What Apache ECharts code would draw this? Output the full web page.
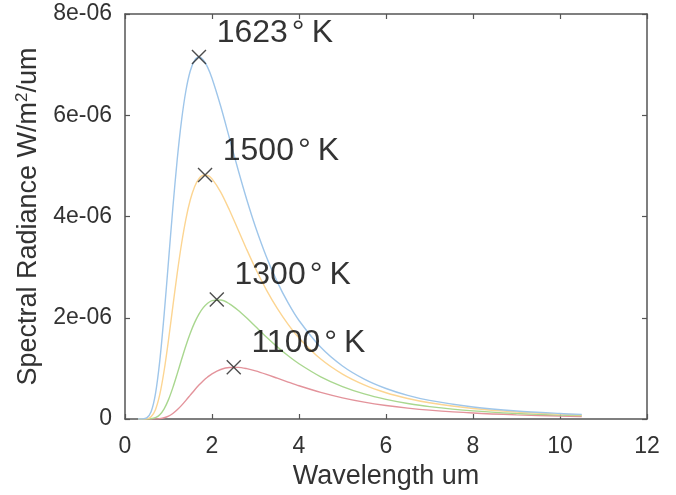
<!DOCTYPE html>
<html>
<head>
<meta charset="utf-8">
<script src="https://cdn.jsdelivr.net/npm/echarts@6/dist/echarts.min.js"></script>
<style>
html,body{margin:0;padding:0;background:#fff;}
#chart{width:676px;height:495px;}
</style>
</head>
<body>
<div id="chart"></div>
<script>
// Wavelength grid (um)
var wavelength = [0.3,0.4,0.5,0.6,0.7,0.8,0.9,1.0,1.1,1.2,1.3,1.4,1.5,1.6,1.7,1.8,1.9,2.0,2.2,2.4,2.6,2.8,3.0,3.25,3.5,3.75,4.0,4.5,5.0,5.5,6.0,6.5,7.0,8.0,9.0,10.0,10.5];
// Spectral radiance, in units of 1e-06
var r1623 = [0.000,0.001,0.022,0.144,0.498,1.154,2.067,3.119,4.173,5.122,5.900,6.484,6.873,7.084,7.150,7.093,6.946,6.731,6.177,5.551,4.923,4.331,3.794,3.207,2.709,2.293,1.946,1.417,1.048,0.789,0.603,0.467,0.367,0.236,0.157,0.109,0.092];
var r1500 = [0.000,0.000,0.005,0.046,0.185,0.486,0.958,1.561,2.224,2.876,3.462,3.950,4.325,4.588,4.746,4.815,4.809,4.742,4.483,4.129,3.737,3.345,2.973,2.552,2.185,1.870,1.602,1.184,0.887,0.674,0.519,0.405,0.320,0.207,0.139,0.097,0.082];
var r1300 = [0.000,0.000,0.000,0.004,0.025,0.084,0.201,0.383,0.620,0.892,1.174,1.447,1.693,1.903,2.072,2.199,2.286,2.337,2.350,2.276,2.149,1.994,1.827,1.620,1.425,1.248,1.091,0.833,0.640,0.495,0.388,0.307,0.245,0.161,0.110,0.077,0.066];
var r1100 = [0.000,0.000,0.000,0.000,0.002,0.008,0.024,0.056,0.109,0.181,0.269,0.368,0.471,0.574,0.670,0.757,0.831,0.893,0.978,1.017,1.019,0.994,0.951,0.882,0.806,0.730,0.656,0.525,0.418,0.333,0.267,0.215,0.175,0.118,0.082,0.058,0.050];
// Peak markers
var peakLabels = ['1623', '1500', '1300', '1100'];
var peakX = [1.70, 1.84, 2.11, 2.50];
var peakY = [7.15, 4.82, 2.36, 1.02];
// Tick labels
var xTicks = ['0','2','4','6','8','10','12'];
var yTicks = ['0','2e-06','4e-06','6e-06','8e-06'];

var FONT = '"Liberation Sans", Arial, Helvetica, sans-serif';
var FRAME = '#555555';

function pairs(ys) {
  var out = [];
  for (var i = 0; i < wavelength.length; i++) out.push([wavelength[i], ys[i]]);
  return out;
}
var curveSets = [
  {name: '1623', data: r1623, color: '#9fc6ea'},
  {name: '1500', data: r1500, color: '#fcd592'},
  {name: '1300', data: r1300, color: '#a9d78f'},
  {name: '1100', data: r1100, color: '#e3939b'}
];
var series = [];
curveSets.slice().reverse().forEach(function (c) {
  series.push({
    type: 'line', name: c.name, data: pairs(c.data), smooth: 0.3,
    showSymbol: false, silent: true,
    lineStyle: {color: c.color, width: 1.4}
  });
});
var peakData = [];
for (var i = 0; i < peakX.length; i++) peakData.push({value: [peakX[i], peakY[i]], name: peakLabels[i]});
series.push({
  type: 'scatter', data: peakData, silent: true, z: 10,
  symbol: 'path://M0,0L10,10M0,10L10,0', symbolSize: 14,
  itemStyle: {color: 'rgba(0,0,0,0)', borderColor: '#222', borderWidth: 1.4},
  label: {
    show: true, position: 'right', distance: 5, offset: [5, -24],
    formatter: function (p) { return p.name + '{deg|°}K'; },
    fontFamily: FONT, fontSize: 32, color: '#000',
    rich: {deg: {fontFamily: FONT, fontSize: 32, color: '#000', padding: [0, 7, 0, 4]}}
  }
});

function xAxisBase(pos, showLabel) {
  return {
    type: 'value', position: pos, min: 0, max: 12, interval: 2,
    axisLine: {show: true, onZero: false, lineStyle: {color: FRAME, width: 1.5}},
    axisTick: {show: true, inside: true, length: 5, lineStyle: {color: FRAME, width: 1.2}},
    axisLabel: {show: showLabel, fontFamily: FONT, fontSize: 23, color: '#333', margin: 16,
      formatter: function (v) { return xTicks[Math.round(v / 2)]; }},
    splitLine: {show: false}
  };
}
function yAxisBase(pos, showLabel) {
  return {
    type: 'value', position: pos, min: 0, max: 8, interval: 2,
    axisLine: {show: true, onZero: false, lineStyle: {color: FRAME, width: 1.5}},
    axisTick: {show: true, inside: true, length: 5, lineStyle: {color: FRAME, width: 1.2}},
    axisLabel: {show: showLabel, fontFamily: FONT, fontSize: 23, color: '#333', margin: 13,
      formatter: function (v) { return yTicks[Math.round(v / 2)]; }},
    splitLine: {show: false}
  };
}
var xb = xAxisBase('bottom', true);
xb.name = 'Wavelength um';
xb.nameLocation = 'middle';
xb.nameGap = 41;
xb.nameTextStyle = {fontFamily: FONT, fontSize: 27, color: '#333'};
var yl = yAxisBase('left', true);
yl.name = 'Spectral Radiance W/m{sup|2}/um';
yl.nameLocation = 'middle';
yl.nameGap = 80;
yl.nameTextStyle = {fontFamily: FONT, fontSize: 27, color: '#333',
  rich: {sup: {fontFamily: FONT, fontSize: 17, color: '#333', verticalAlign: 'top', padding: [0, 0, 12, 0]}}};
var xt = xAxisBase('top', false);
var yr = yAxisBase('right', false);

var chart = echarts.init(document.getElementById('chart'), null, {renderer: 'canvas'});
chart.setOption({
  animation: false,
  backgroundColor: '#ffffff',
  grid: {left: 125, right: 29, top: 14, bottom: 76, containLabel: false},
  xAxis: [xb, xt],
  yAxis: [yl, yr],
  series: series
});
</script>
</body>
</html>
